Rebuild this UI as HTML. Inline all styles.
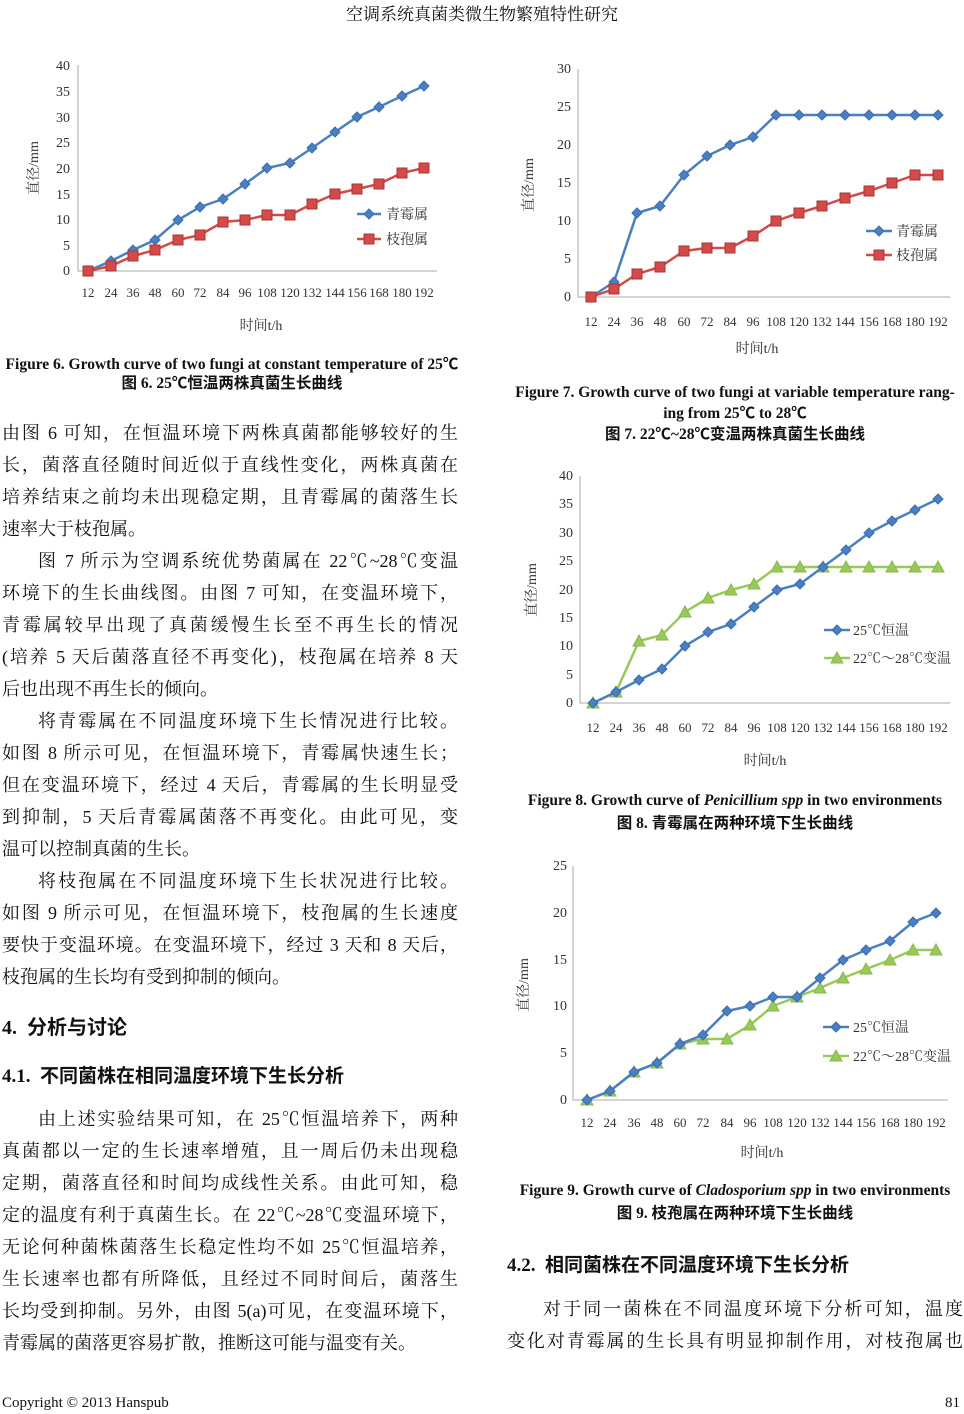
<!DOCTYPE html>
<html><head><meta charset="utf-8"><style>
body{margin:0;width:964px;height:1414px;position:relative;background:#fff;font-family:"Liberation Serif","Noto Serif CJK SC","Noto Sans CJK SC",serif;color:#111;overflow:hidden}
.a{position:absolute;white-space:nowrap}
.l{position:absolute;left:2px;width:456px;font-size:18px;line-height:20px;text-align:justify;text-align-last:justify;white-space:nowrap}
.r{left:507px}
.c{position:absolute;text-align:center;font-weight:bold;font-size:15.5px;white-space:nowrap;font-family:"Liberation Serif","Noto Sans CJK SC",serif}
.h{position:absolute;font-weight:bold;font-size:19px;font-family:"Liberation Serif","Noto Sans CJK SC",serif}
svg text{font-family:"Liberation Serif","Noto Serif CJK SC",serif;fill:#333}
</style></head><body>
<div class="a" style="left:0;width:964px;text-align:center;top:0;font-size:17px">空调系统真菌类微生物繁殖特性研究</div>
<svg width="964" height="1414" style="position:absolute;left:0;top:0">
<defs>
<marker id="d" markerUnits="userSpaceOnUse" markerWidth="12" markerHeight="12" refX="6" refY="6"><path d="M6 1L11 6L6 11L1 6Z" fill="#4a7fc1" stroke="#3a6db0"/></marker>
<marker id="s" markerUnits="userSpaceOnUse" markerWidth="12" markerHeight="12" refX="6" refY="6"><rect x="1" y="1" width="10" height="10" fill="#d24b48" stroke="#a33"/></marker>
<marker id="t" markerUnits="userSpaceOnUse" markerWidth="14" markerHeight="14" refX="7" refY="7"><path d="M7 1L13 12L1 12Z" fill="#98c95a" stroke="#88b94a"/></marker>
</defs>
<g font-size="14">
<!-- chart 6 -->
<path d="M78 65V271H437" stroke="#aaa" fill="none"/>
<g text-anchor="end"><text x="70" y="275">0</text><text x="70" y="250">5</text><text x="70" y="224">10</text><text x="70" y="199">15</text><text x="70" y="173">20</text><text x="70" y="147">25</text><text x="70" y="122">30</text><text x="70" y="96">35</text><text x="70" y="70">40</text></g>
<g text-anchor="middle" font-size="13"><text x="88" y="297">12</text><text x="111" y="297">24</text><text x="133" y="297">36</text><text x="155" y="297">48</text><text x="178" y="297">60</text><text x="200" y="297">72</text><text x="223" y="297">84</text><text x="245" y="297">96</text><text x="267" y="297">108</text><text x="290" y="297">120</text><text x="312" y="297">132</text><text x="335" y="297">144</text><text x="357" y="297">156</text><text x="379" y="297">168</text><text x="402" y="297">180</text><text x="424" y="297">192</text>
<text x="261" y="330" font-size="14">时间t/h</text></g>
<text transform="translate(38,168) rotate(-90)" text-anchor="middle">直径/mm</text>
<polyline points="88,271 111,261 133,250 155,240 178,220 200,207 223,199 245,184 267,168 290,163 312,148 335,132 357,117 379,107 402,96 424,86" fill="none" stroke="#4a7fc1" stroke-width="2.5" marker-start="url(#d)" marker-mid="url(#d)" marker-end="url(#d)"/>
<polyline points="88,271 111,266 133,256 155,250 178,240 200,235 223,222 245,220 267,215 290,215 312,204 335,194 357,189 379,184 402,173 424,168" fill="none" stroke="#d24b48" stroke-width="2.5" marker-start="url(#s)" marker-mid="url(#s)" marker-end="url(#s)"/>
<polyline points="357,214 369,214 381,214" stroke="#4a7fc1" stroke-width="2.5" marker-mid="url(#d)" fill="none"/><text x="386" y="219">青霉属</text>
<polyline points="357,239 369,239 381,239" stroke="#d24b48" stroke-width="2.5" marker-mid="url(#s)" fill="none"/><text x="386" y="244">枝孢属</text>
<!-- chart 7 -->
<path d="M578 69V297H950" stroke="#aaa" fill="none"/>
<g text-anchor="end"><text x="571" y="301">0</text><text x="571" y="263">5</text><text x="571" y="225">10</text><text x="571" y="187">15</text><text x="571" y="149">20</text><text x="571" y="111">25</text><text x="571" y="73">30</text></g>
<g text-anchor="middle" font-size="13"><text x="591" y="326">12</text><text x="614" y="326">24</text><text x="637" y="326">36</text><text x="660" y="326">48</text><text x="684" y="326">60</text><text x="707" y="326">72</text><text x="730" y="326">84</text><text x="753" y="326">96</text><text x="776" y="326">108</text><text x="799" y="326">120</text><text x="822" y="326">132</text><text x="845" y="326">144</text><text x="869" y="326">156</text><text x="892" y="326">168</text><text x="915" y="326">180</text><text x="938" y="326">192</text>
<text x="757" y="353" font-size="14">时间t/h</text></g>
<text transform="translate(533,185) rotate(-90)" text-anchor="middle">直径/mm</text>
<polyline points="591,297 614,282 637,213 660,206 684,175 707,156 730,145 753,137 776,115 799,115 822,115 845,115 869,115 892,115 915,115 938,115" fill="none" stroke="#4a7fc1" stroke-width="2.5" marker-start="url(#d)" marker-mid="url(#d)" marker-end="url(#d)"/>
<polyline points="591,297 614,289 637,274 660,267 684,251 707,248 730,248 753,236 776,221 799,213 822,206 845,198 869,191 892,183 915,175 938,175" fill="none" stroke="#d24b48" stroke-width="2.5" marker-start="url(#s)" marker-mid="url(#s)" marker-end="url(#s)"/>
<polyline points="866,231 879,231 892,231" stroke="#4a7fc1" stroke-width="2.5" marker-mid="url(#d)" fill="none"/><text x="896" y="236">青霉属</text>
<polyline points="866,255 879,255 892,255" stroke="#d24b48" stroke-width="2.5" marker-mid="url(#s)" fill="none"/><text x="896" y="260">枝孢属</text>
<!-- chart 8 -->
<path d="M580 476V703H950" stroke="#aaa" fill="none"/>
<g text-anchor="end"><text x="573" y="707">0</text><text x="573" y="679">5</text><text x="573" y="650">10</text><text x="573" y="622">15</text><text x="573" y="594">20</text><text x="573" y="565">25</text><text x="573" y="537">30</text><text x="573" y="508">35</text><text x="573" y="480">40</text></g>
<g text-anchor="middle" font-size="13"><text x="593" y="732">12</text><text x="616" y="732">24</text><text x="639" y="732">36</text><text x="662" y="732">48</text><text x="685" y="732">60</text><text x="708" y="732">72</text><text x="731" y="732">84</text><text x="754" y="732">96</text><text x="777" y="732">108</text><text x="800" y="732">120</text><text x="823" y="732">132</text><text x="846" y="732">144</text><text x="869" y="732">156</text><text x="892" y="732">168</text><text x="915" y="732">180</text><text x="938" y="732">192</text>
<text x="765" y="765" font-size="14">时间t/h</text></g>
<text transform="translate(536,590) rotate(-90)" text-anchor="middle">直径/mm</text>
<polyline points="593,703 616,692 639,641 662,635 685,612 708,598 731,590 754,584 777,567 800,567 823,567 846,567 869,567 892,567 915,567 938,567" fill="none" stroke="#98c95a" stroke-width="2.5" marker-start="url(#t)" marker-mid="url(#t)" marker-end="url(#t)"/>
<polyline points="593,703 616,692 639,680 662,669 685,646 708,632 731,624 754,607 777,590 800,584 823,567 846,550 869,533 892,521 915,510 938,499" fill="none" stroke="#4a7fc1" stroke-width="2.5" marker-start="url(#d)" marker-mid="url(#d)" marker-end="url(#d)"/>
<polyline points="824,630 837,630 850,630" stroke="#4a7fc1" stroke-width="2.5" marker-mid="url(#d)" fill="none"/><text x="853" y="635">25℃恒温</text>
<polyline points="824,658 837,658 850,658" stroke="#98c95a" stroke-width="2.5" marker-mid="url(#t)" fill="none"/><text x="853" y="663">22℃～28℃变温</text>
<!-- chart 9 -->
<path d="M573 866V1100H948" stroke="#aaa" fill="none"/>
<g text-anchor="end"><text x="567" y="1104">0</text><text x="567" y="1057">5</text><text x="567" y="1010">10</text><text x="567" y="964">15</text><text x="567" y="917">20</text><text x="567" y="870">25</text></g>
<g text-anchor="middle" font-size="13"><text x="587" y="1127">12</text><text x="610" y="1127">24</text><text x="634" y="1127">36</text><text x="657" y="1127">48</text><text x="680" y="1127">60</text><text x="703" y="1127">72</text><text x="727" y="1127">84</text><text x="750" y="1127">96</text><text x="773" y="1127">108</text><text x="797" y="1127">120</text><text x="820" y="1127">132</text><text x="843" y="1127">144</text><text x="866" y="1127">156</text><text x="890" y="1127">168</text><text x="913" y="1127">180</text><text x="936" y="1127">192</text>
<text x="762" y="1157" font-size="14">时间t/h</text></g>
<text transform="translate(528,985) rotate(-90)" text-anchor="middle">直径/mm</text>
<polyline points="587,1100 610,1091 634,1072 657,1063 680,1044 703,1039 727,1039 750,1025 773,1006 797,997 820,988 843,978 866,969 890,960 913,950 936,950" fill="none" stroke="#98c95a" stroke-width="2.5" marker-start="url(#t)" marker-mid="url(#t)" marker-end="url(#t)"/>
<polyline points="587,1100 610,1091 634,1072 657,1063 680,1044 703,1035 727,1011 750,1006 773,997 797,997 820,978 843,960 866,950 890,941 913,922 936,913" fill="none" stroke="#4a7fc1" stroke-width="2.5" marker-start="url(#d)" marker-mid="url(#d)" marker-end="url(#d)"/>
<polyline points="823,1027 836,1027 849,1027" stroke="#4a7fc1" stroke-width="2.5" marker-mid="url(#d)" fill="none"/><text x="853" y="1032">25℃恒温</text>
<polyline points="823,1056 836,1056 849,1056" stroke="#98c95a" stroke-width="2.5" marker-mid="url(#t)" fill="none"/><text x="853" y="1061">22℃～28℃变温</text>
</g></svg>

<div class="c" style="left:0;width:464px;top:352px">Figure 6. Growth curve of two fungi at constant temperature of 25℃</div>
<div class="c" style="left:0;width:464px;top:371px">图 6. 25℃恒温两株真菌生长曲线</div>
<div class="c" style="left:500px;width:470px;top:384px">Figure 7. Growth curve of two fungi at variable temperature rang-</div>
<div class="c" style="left:500px;width:470px;top:401px">ing from 25℃ to 28℃</div>
<div class="c" style="left:500px;width:470px;top:422px">图 7. 22℃~28℃变温两株真菌生长曲线</div>
<div class="c" style="left:500px;width:470px;top:792px">Figure 8. Growth curve of <i>Penicillium spp</i> in two environments</div>
<div class="c" style="left:500px;width:470px;top:811px">图 8. 青霉属在两种环境下生长曲线</div>
<div class="c" style="left:500px;width:470px;top:1182px">Figure 9. Growth curve of <i>Cladosporium spp</i> in two environments</div>
<div class="c" style="left:500px;width:470px;top:1201px">图 9. 枝孢属在两种环境下生长曲线</div>

<div class="l" style="top:423px">由图 6 可知，在恒温环境下两株真菌都能够较好的生</div>
<div class="l" style="top:455px">长，菌落直径随时间近似于直线性变化，两株真菌在</div>
<div class="l" style="top:487px">培养结束之前均未出现稳定期，且青霉属的菌落生长</div>
<div class="l" style="top:519px;text-align-last:left">速率大于枝孢属。</div>
<div class="l" style="top:551px;left:38px;width:420px">图 7 所示为空调系统优势菌属在 22℃~28℃变温</div>
<div class="l" style="top:583px">环境下的生长曲线图。由图 7 可知，在变温环境下，</div>
<div class="l" style="top:615px">青霉属较早出现了真菌缓慢生长至不再生长的情况</div>
<div class="l" style="top:647px">(培养 5 天后菌落直径不再变化)，枝孢属在培养 8 天</div>
<div class="l" style="top:679px;text-align-last:left">后也出现不再生长的倾向。</div>
<div class="l" style="top:711px;left:38px;width:420px">将青霉属在不同温度环境下生长情况进行比较。</div>
<div class="l" style="top:743px">如图 8 所示可见，在恒温环境下，青霉属快速生长；</div>
<div class="l" style="top:775px">但在变温环境下，经过 4 天后，青霉属的生长明显受</div>
<div class="l" style="top:807px">到抑制，5 天后青霉属菌落不再变化。由此可见，变</div>
<div class="l" style="top:839px;text-align-last:left">温可以控制真菌的生长。</div>
<div class="l" style="top:871px;left:38px;width:420px">将枝孢属在不同温度环境下生长状况进行比较。</div>
<div class="l" style="top:903px">如图 9 所示可见，在恒温环境下，枝孢属的生长速度</div>
<div class="l" style="top:935px">要快于变温环境。在变温环境下，经过 3 天和 8 天后，</div>
<div class="l" style="top:967px;text-align-last:left">枝孢属的生长均有受到抑制的倾向。</div>
<div class="h" style="left:2px;top:1011px;font-size:20px">4.&nbsp; 分析与讨论</div>
<div class="h" style="left:2px;top:1061px">4.1.&nbsp; 不同菌株在相同温度环境下生长分析</div>
<div class="l" style="top:1109px;left:38px;width:420px">由上述实验结果可知，在 25℃恒温培养下，两种</div>
<div class="l" style="top:1141px">真菌都以一定的生长速率增殖，且一周后仍未出现稳</div>
<div class="l" style="top:1173px">定期，菌落直径和时间均成线性关系。由此可知，稳</div>
<div class="l" style="top:1205px">定的温度有利于真菌生长。在 22℃~28℃变温环境下，</div>
<div class="l" style="top:1237px">无论何种菌株菌落生长稳定性均不如 25℃恒温培养，</div>
<div class="l" style="top:1269px">生长速率也都有所降低，且经过不同时间后，菌落生</div>
<div class="l" style="top:1301px">长均受到抑制。另外，由图 5(a)可见，在变温环境下，</div>
<div class="l" style="top:1333px;text-align-last:left">青霉属的菌落更容易扩散，推断这可能与温变有关。</div>
<div class="h" style="left:507px;top:1250px">4.2.&nbsp; 相同菌株在不同温度环境下生长分析</div>
<div class="l r" style="top:1299px;left:543px;width:420px">对于同一菌株在不同温度环境下分析可知，温度</div>
<div class="l r" style="top:1331px;width:456px">变化对青霉属的生长具有明显抑制作用，对枝孢属也</div>
<div class="a" style="left:2px;top:1395px;font-size:15px">Copyright © 2013 Hanspub</div>
<div class="a" style="right:4px;top:1395px;font-size:15px">81</div>
</body></html>
